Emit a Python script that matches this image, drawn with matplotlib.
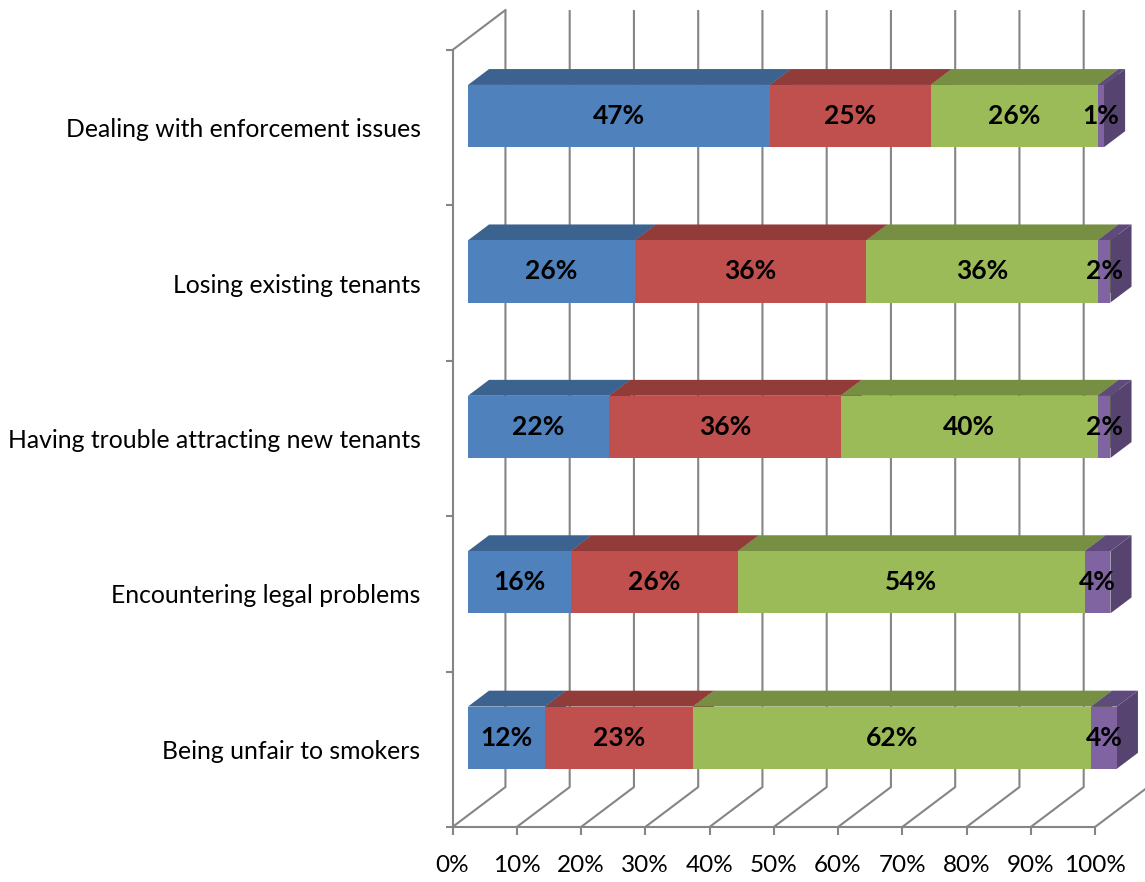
import matplotlib.pyplot as plt
from matplotlib.patches import Polygon
from matplotlib.ticker import FixedLocator

plt.rcParams['font.family'] = ['Lato', 'DejaVu Sans']

categories = ["Dealing with enforcement issues",
              "Losing existing tenants",
              "Having trouble attracting new tenants",
              "Encountering legal problems",
              "Being unfair to smokers"]
series_a = [47, 26, 22, 16, 12]
series_b = [25, 36, 36, 26, 23]
series_c = [26, 36, 40, 54, 62]
series_d = [1, 2, 2, 4, 4]
x_ticks = list(range(0, 101, 10))
x_labels = [f"{v}%" for v in x_ticks]

# front, top, side shades for each series
colors = [("#4F81BD", "#3C6390", "#35587F"),
          ("#C0504D", "#923C3A", "#823634"),
          ("#9BBB59", "#768F42", "#697F3B"),
          ("#8064A2", "#5F4B7B", "#56436F")]
grid_col = "#858585"

# 3d depth of the plot box, in data units
DX, DY = 8.24, 0.257
F0, F1 = 0.292, 0.69   # bar front/back as fraction of depth
BAR_H = 0.4

fig = plt.figure(figsize=(11.45, 8.82), dpi=100)
ax = fig.add_axes([452.5 / 1145, (882 - 827) / 882, 642.5 / 1145, 777 / 882])
ax.set_xlim(0, 100)
ax.set_ylim(0, 5)
ax.patch.set_visible(False)

# back wall gridlines and floor diagonals
for v in x_ticks:
    ax.plot([v, v + DX, v + DX], [0, DY, 5 + DY], color=grid_col, lw=1.5,
            clip_on=False, zorder=1, solid_capstyle='butt')
ax.plot([0, DX], [5, 5 + DY], color=grid_col, lw=1.5, clip_on=False, zorder=1)

for s in ['top', 'right']:
    ax.spines[s].set_visible(False)
for s in ['left', 'bottom']:
    ax.spines[s].set_color(grid_col)
    ax.spines[s].set_linewidth(1.5)
    ax.spines[s].set_zorder(1)

ax.set_xticks(x_ticks)
ax.set_xticklabels(x_labels)
ax.tick_params(axis='x', direction='out', length=5.8, width=1.5, color=grid_col,
               pad=14, labelsize=17.5)

n = len(categories)
ax.yaxis.set_major_locator(FixedLocator([i + 0.5 for i in range(n)]))
ax.set_yticklabels(categories[::-1])
ax.yaxis.set_minor_locator(FixedLocator(list(range(n + 1))))
ax.tick_params(axis='y', which='major', length=0, pad=23, labelsize=17.8)
ax.tick_params(axis='y', which='minor', direction='out', length=5.2, width=1.5,
               color=grid_col)

data = [series_a, series_b, series_c, series_d]
for row in range(n):
    yc = n - 1 - row + 0.5
    y0, y1 = yc - BAR_H / 2, yc + BAR_H / 2
    left = 0
    for k, vals in enumerate(data):
        w = vals[row]
        right = left + w
        front, top, side = colors[k]
        fx0, fx1 = left + F0 * DX, right + F0 * DX
        fy0, fy1 = y0 + F0 * DY, y1 + F0 * DY
        bx0, bx1 = left + F1 * DX, right + F1 * DX
        by0, by1 = y0 + F1 * DY, y1 + F1 * DY
        ax.add_patch(Polygon([(fx1, fy0), (bx1, by0), (bx1, by1), (fx1, fy1)],
                             facecolor=side, edgecolor='none', clip_on=False, zorder=3))
        ax.add_patch(Polygon([(fx0, fy1), (fx1, fy1), (bx1, by1), (bx0, by1)],
                             facecolor=top, edgecolor='none', clip_on=False, zorder=3))
        ax.add_patch(Polygon([(fx0, fy0), (fx1, fy0), (fx1, fy1), (fx0, fy1)],
                             facecolor=front, edgecolor='none', clip_on=False, zorder=3))
        left = right
    left = 0
    for k, vals in enumerate(data):
        w = vals[row]
        ax.text(left + w / 2 + F0 * DX, yc + F0 * DY, f"{w}%", ha='center', va='center',
                fontsize=19, fontweight='bold', color='black', zorder=5, clip_on=False)
        left += w

fig.savefig("out.png", dpi=100)
